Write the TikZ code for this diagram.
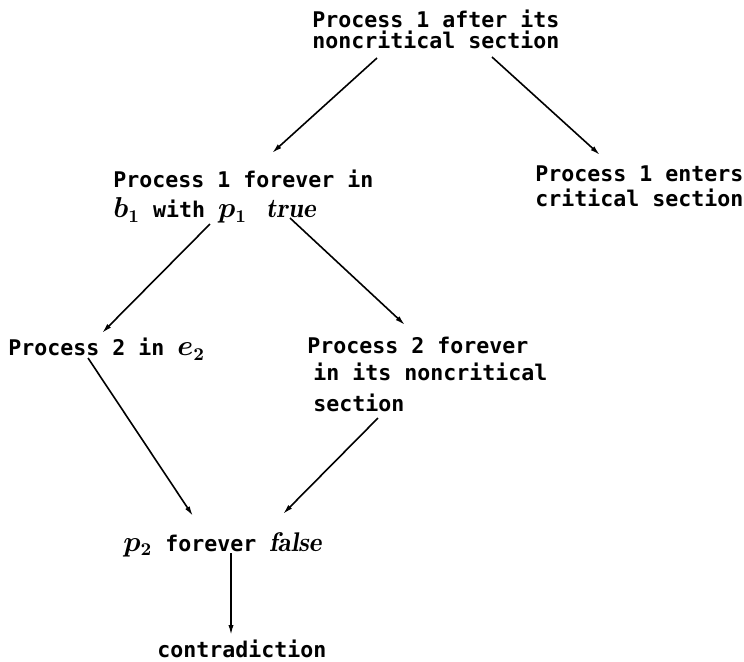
\documentclass[tikz,border=0pt]{standalone}
\usepackage{fontspec}
\setmonofont{DejaVu Sans Mono}
\usetikzlibrary{arrows.meta,calc}
\newcommand\mth[1]{{\fontsize{13.5}{14}\selectfont\boldmath$#1$}}

\begin{document}
\begin{tikzpicture}[x=0.5pt,y=-0.5pt,
	txt/.style={anchor=north west,inner sep=0,align=left,font=\ttfamily\bfseries\fontsize{10.8}{#1}\selectfont},
	txt/.default=12,
	arr/.style={-{Latex[length=5pt,width=2.6pt]},line width=0.8pt}]
\useasboundingbox (0,0) rectangle (744,661);
\node[txt=10.5] (top) at (312,10) {Process 1 after its\\noncritical section};
\node[txt=15] (loop1) at (113,170) {Process 1 forever in\\\mth{b_1} with \mth{p_1}\hspace{3pt} \mth{\mathit{true}}};
\node[txt=12.5] (enters) at (535,165) {Process 1 enters\\critical section};
\node[txt] (ine2) at (8,338) {Process 2 in \mth{e_2}};
\node[txt=15.5] (idle2) at (307,337) {Process 2 forever\\[-2pt]\hspace*{3pt}in its noncritical\\\hspace*{3pt}section};
\node[txt] (false2) at (123,532) {\mth{p_2} forever \mth{\mathit{false}}};
\node[txt] (contra) at (157,640) {contradiction};
\draw[arr] ($(top.north west)+(65,48)$) -- ($(loop1.north west)+(159,-17)$);
\draw[arr] ($(top.north west)+(180,47)$) -- ($(enters.north west)+(65,-10)$);
\draw[arr] ($(loop1.north west)+(97,54)$) -- ($(ine2.north west)+(94,-5)$);
\draw[arr] ($(loop1.north west)+(177,48)$) -- ($(idle2.north west)+(98,-12)$);
\draw[arr] ($(ine2.north west)+(80,20)$) -- ($(false2.north west)+(70,-16)$);
\draw[arr] ($(idle2.north west)+(71,81)$) -- ($(false2.north west)+(160,-18)$);
\draw[arr] ($(false2.north west)+(108,21)$) -- ($(contra.north west)+(74,-5)$);
\end{tikzpicture}
\end{document}
